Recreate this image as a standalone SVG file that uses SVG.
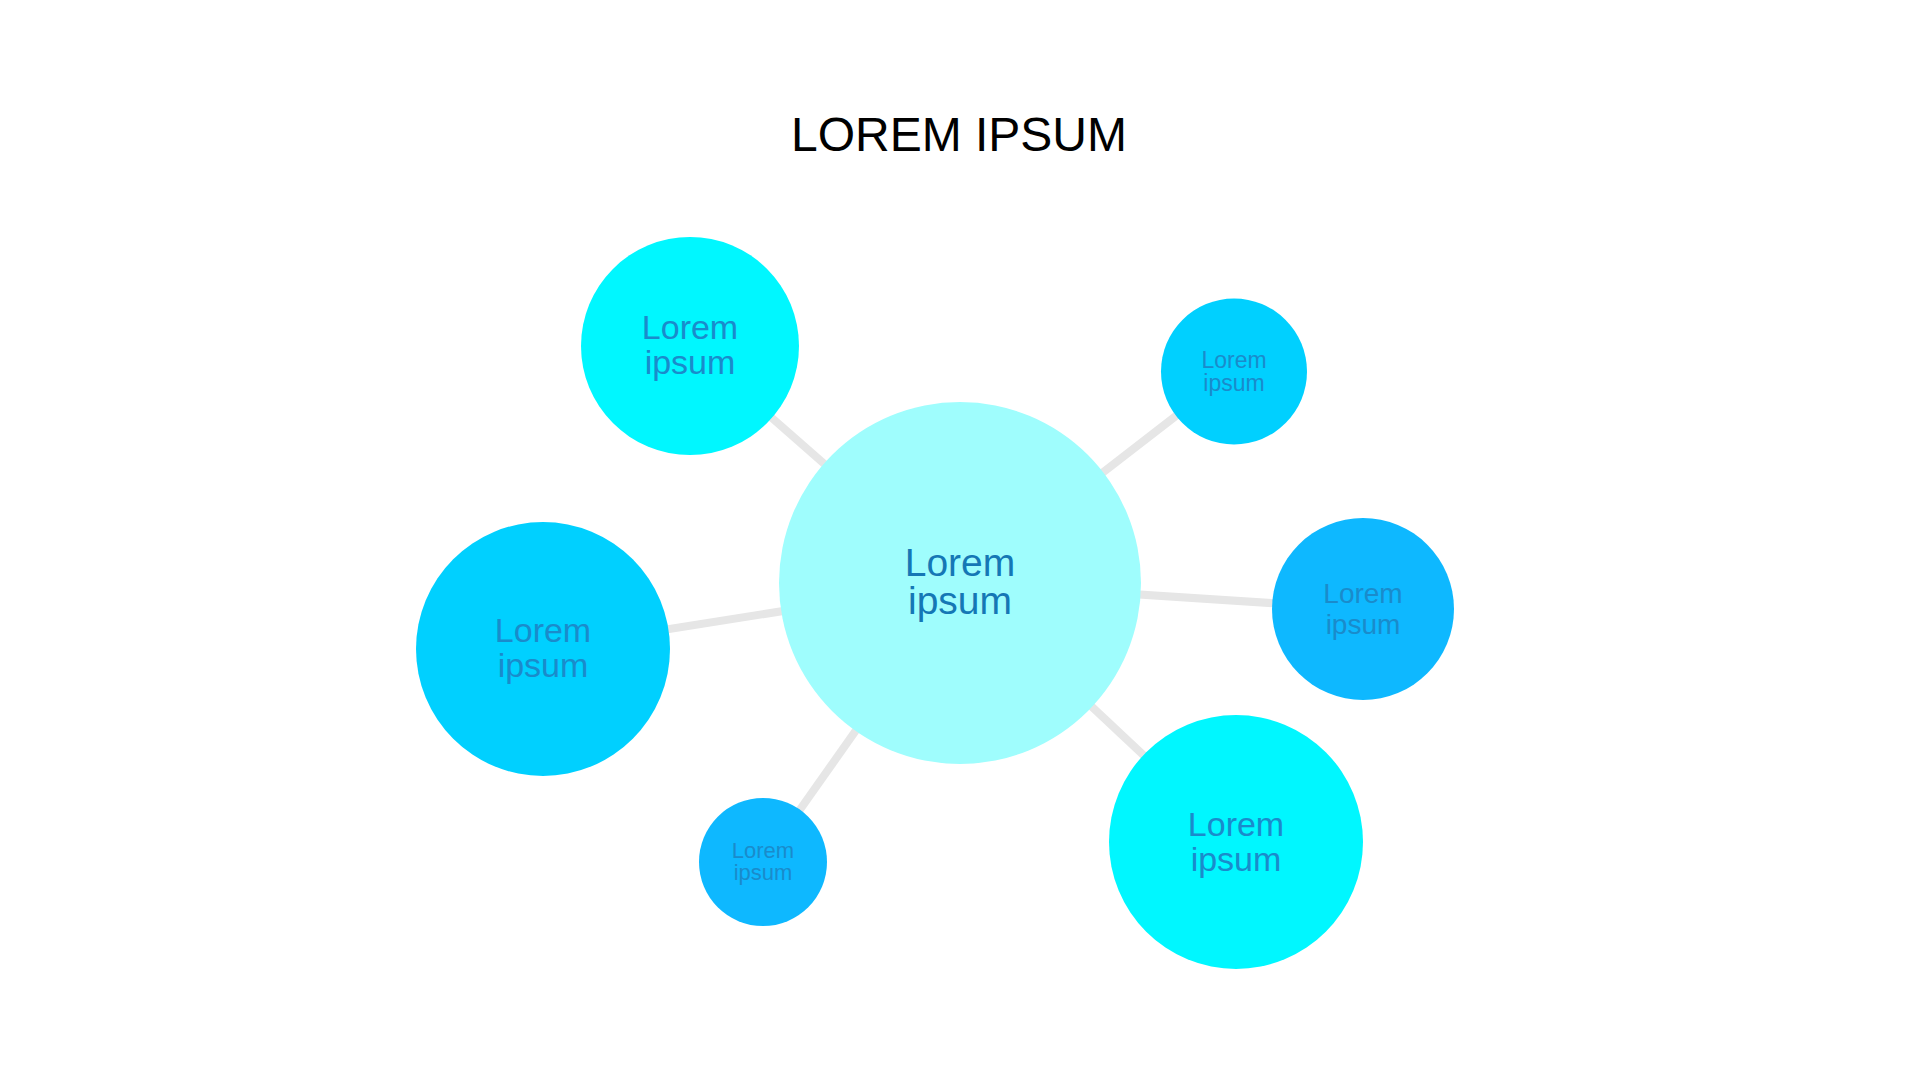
<svg xmlns="http://www.w3.org/2000/svg" width="1920" height="1080" viewBox="0 0 1920 1080">
<style>
.lbl{font-family:"Liberation Sans",Arial,sans-serif;text-anchor:middle;fill:#1A8BCB}
.ctr{font-family:"Liberation Sans",Arial,sans-serif;text-anchor:middle;fill:#1577B5}
.title{font-family:"Liberation Sans",Arial,sans-serif;text-anchor:middle;fill:#000000;font-size:48px}
.conn line{stroke:#E6E6E6;stroke-width:8}
</style>
<rect width="1920" height="1080" fill="#FFFFFF"/>
<text class="title" x="959" y="151">LOREM IPSUM</text>
<g id="connectors" class="conn">
<line x1="960" y1="583" x2="690" y2="346"/>
<line x1="960" y1="583" x2="1234" y2="371"/>
<line x1="960" y1="583" x2="543" y2="649"/>
<line x1="960" y1="583" x2="1363" y2="609"/>
<line x1="960" y1="583" x2="763" y2="862"/>
<line x1="960" y1="583" x2="1236" y2="842"/>
</g>
<g id="node-center">
<circle cx="960" cy="583" r="181" fill="#9FFDFD"/>
<text class="ctr" font-size="39" x="960" y="576">Lorem</text>
<text class="ctr" font-size="39" x="960" y="614">ipsum</text>
</g>
<g id="node-top-left">
<circle cx="690" cy="346" r="109" fill="#00F7FF"/>
<text class="lbl" font-size="34" x="690" y="339">Lorem</text>
<text class="lbl" font-size="34" x="690" y="374">ipsum</text>
</g>
<g id="node-top-right">
<circle cx="1234" cy="371.5" r="73" fill="#00D0FF"/>
<text class="lbl" font-size="23" x="1234" y="368">Lorem</text>
<text class="lbl" font-size="23" x="1234" y="391">ipsum</text>
</g>
<g id="node-left">
<circle cx="543" cy="649" r="127" fill="#00D0FF"/>
<text class="lbl" font-size="34" x="543" y="642">Lorem</text>
<text class="lbl" font-size="34" x="543" y="677">ipsum</text>
</g>
<g id="node-right">
<circle cx="1363" cy="609" r="91" fill="#0EB8FF"/>
<text class="lbl" font-size="28" x="1363" y="603">Lorem</text>
<text class="lbl" font-size="28" x="1363" y="634">ipsum</text>
</g>
<g id="node-bottom-left">
<circle cx="763" cy="862" r="64" fill="#0EB8FF"/>
<text class="lbl" font-size="22" x="763" y="858">Lorem</text>
<text class="lbl" font-size="22" x="763" y="880">ipsum</text>
</g>
<g id="node-bottom-right">
<circle cx="1236" cy="842" r="127" fill="#00F7FF"/>
<text class="lbl" font-size="34" x="1236" y="836">Lorem</text>
<text class="lbl" font-size="34" x="1236" y="871">ipsum</text>
</g>
</svg>
